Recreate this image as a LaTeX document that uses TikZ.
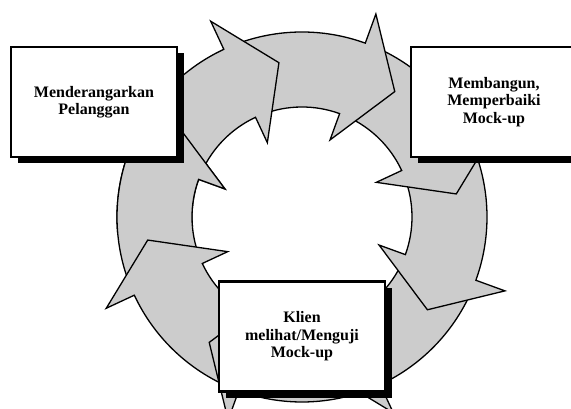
\documentclass[tikz,border=0pt]{standalone}
\usepackage{fontspec}
\setmainfont{Liberation Serif}
\usetikzlibrary{shadows}
\definecolor{ringgray}{RGB}{204,204,204}
\def\RingArrow#1{%
  \draw[ringarrow] ({#1+41}:185) arc[start angle={#1+41}, end angle={#1}, radius=185]
    -- ({#1}:216) -- ({#1-16.5}:156) -- ({#1}:82) -- ({#1}:110)
    arc[start angle={#1}, end angle={#1+41}, radius=110] -- cycle;}
\begin{document}
\begin{tikzpicture}[x=1pt,y=1pt,
  ringarrow/.style={fill=ringgray,draw=black,line width=1.3pt,line join=miter},
  stepbox/.style={draw=black,fill=white,line width=2.2pt,minimum width=166pt,
    minimum height=110pt,inner sep=0pt,align=center,
    font=\fontsize{16}{17.5}\selectfont\bfseries,
    drop shadow={shadow xshift=6.5pt,shadow yshift=-6.5pt,fill=black,opacity=1}}]
\useasboundingbox (0,0) rectangle (571,409);
\clip (0,0) rectangle (571,409);
\begin{scope}[shift={(302,192)}]
  \foreach \t in {-200,-155,-110,-65,-20,25,70,115} {\RingArrow{\t}}
  \begin{scope}
    \clip (0,0) -- (130:300) arc[start angle=130, end angle=185, radius=300] -- cycle;
    \RingArrow{-200}
  \end{scope}
\end{scope}
\node[stepbox] (listen) at (94,307) {Menderangarkan\\Pelanggan};
\node[stepbox] (build) at (494,307) {Membangun,\\Memperbaiki\\Mock-up};
\node[stepbox] (test) at (302,72.5) {Klien\\melihat/Menguji\\Mock-up};
\end{tikzpicture}
\end{document}
